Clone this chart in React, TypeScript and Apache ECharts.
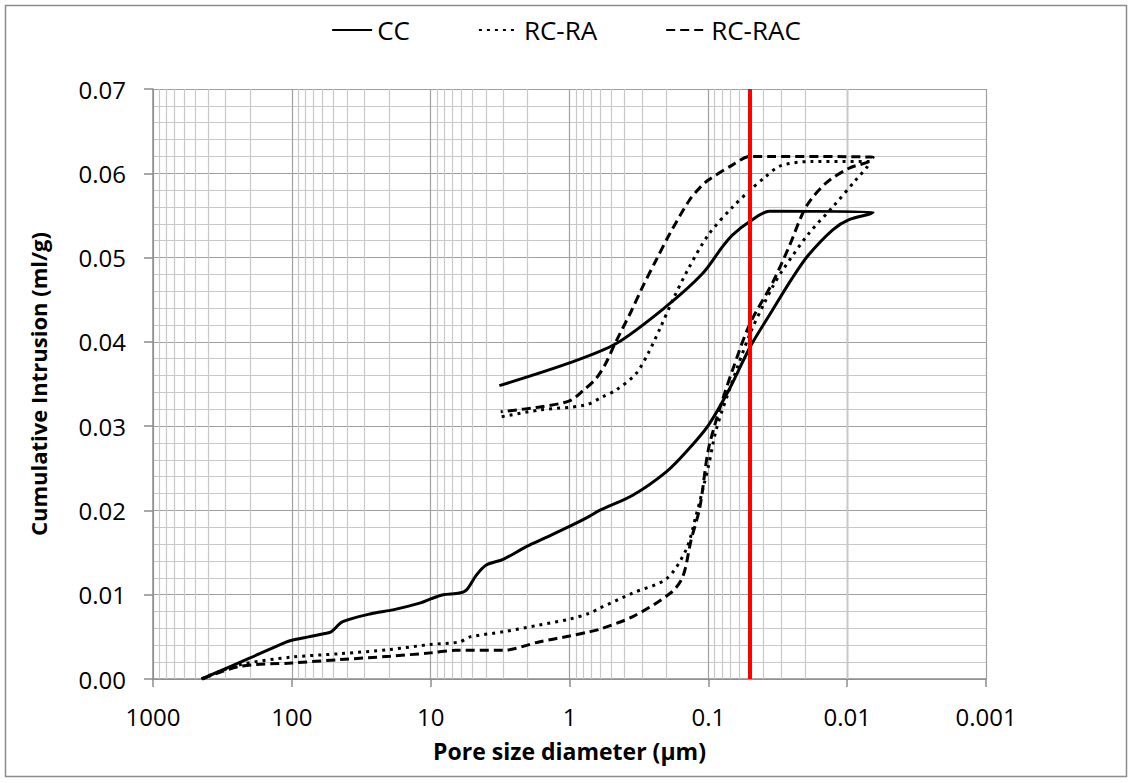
import React, { useEffect, useRef } from "react";
import * as echarts from "echarts";

// ---- Data (pore size diameter in µm, cumulative intrusion in ml/g) ----
// Each series: intrusion branch (large -> small pores) followed by extrusion branch.
const ccPore = [
  447, 200, 109, 100, 76, 58, 52, 43, 26, 18.7, 12, 10, 8.15, 6.2, 5.5, 4.7, 4.0, 3.0, 2.05, 1.47, 1.0, 0.72,
  0.608, 0.35, 0.2, 0.14, 0.1, 0.07, 0.05, 0.035, 0.025, 0.019, 0.0127, 0.0097, 0.0068,
  0.0065, 0.0364, 0.05, 0.0668, 0.079, 0.11, 0.201, 0.461, 1.0, 3.2,
];
const ccIntrusion = [
  0, 0.0025, 0.0044, 0.0046, 0.005, 0.0054, 0.0056, 0.0068, 0.0078, 0.0082, 0.009, 0.0095, 0.01, 0.0102, 0.0106,
  0.0123, 0.0135, 0.0142, 0.0157, 0.0168, 0.0181, 0.0193, 0.02, 0.0218, 0.0246, 0.0272, 0.0301, 0.0345, 0.0394,
  0.0436, 0.0475, 0.0503, 0.0533, 0.0545, 0.0552,
  0.0554, 0.0555, 0.0543, 0.0527, 0.0513, 0.0481, 0.0442, 0.0398, 0.0375, 0.0348,
];

const raPore = [
  447, 411, 237, 100, 45, 19.7, 10, 6.2, 5.2, 3.0, 1.66, 1.0, 0.72, 0.608, 0.35, 0.2, 0.145, 0.123, 0.1, 0.088,
  0.0706, 0.05, 0.0395, 0.0345, 0.0292, 0.0188, 0.0127, 0.00867, 0.00715, 0.0069,
  0.018, 0.03, 0.04, 0.05, 0.0668, 0.1, 0.14, 0.18, 0.22, 0.27, 0.333, 0.46, 0.575, 0.77, 1.66, 3.13,
];
const raIntrusion = [
  0, 0.0003, 0.0017, 0.0026, 0.003, 0.0035, 0.0041, 0.0044, 0.005, 0.0056, 0.0064, 0.0071, 0.0078, 0.0084, 0.0102,
  0.0119, 0.0153, 0.0193, 0.0252, 0.0295, 0.0343, 0.041, 0.0446, 0.0465, 0.0485, 0.0529, 0.056, 0.0592, 0.0608,
  0.0614,
  0.0614, 0.0609, 0.0594, 0.058, 0.056, 0.0527, 0.0486, 0.045, 0.0418, 0.0387, 0.0362, 0.0343, 0.0335, 0.0325,
  0.0319, 0.0311,
];

const racPore = [
  440, 237, 100, 45, 19.7, 10, 6.6, 3.0, 1.66, 1.0, 0.72, 0.608, 0.35, 0.187, 0.153, 0.133, 0.115, 0.1, 0.0834,
  0.0668, 0.05, 0.0345, 0.0262, 0.0198, 0.0143, 0.0097, 0.0069, 0.0065,
  0.05, 0.0668, 0.1, 0.115, 0.137, 0.19, 0.236, 0.3, 0.36, 0.47, 0.55, 0.64, 0.8, 1.0, 1.6, 3.13,
];
const racIntrusion = [
  0, 0.0015, 0.0019, 0.0023, 0.0027, 0.0031, 0.0034, 0.0034, 0.0044, 0.0051, 0.0056, 0.0059, 0.0074, 0.0102,
  0.0121, 0.0165, 0.0204, 0.0272, 0.0319, 0.0367, 0.0422, 0.047, 0.0513, 0.056, 0.0588, 0.0606, 0.0614, 0.0619,
  0.062, 0.061, 0.0592, 0.0583, 0.0568, 0.0528, 0.0498, 0.0464, 0.0436, 0.0398, 0.0374, 0.0357, 0.0342, 0.033,
  0.0323, 0.0317,
];

const seriesNames = ["CC", "RC-RA", "RC-RAC"];
const thresholdPore = 0.05;
const xMin = 0.001;
const xMax = 1000;
const yMin = 0;
const yMax = 0.07;
const yStep = 0.01;
const decadeStarts = [0.001, 0.01, 0.1, 1, 10, 100];
const minorMultipliers = [2, 3, 4, 5, 6, 7, 8, 9];

const FONT = "'Open Sans', 'Liberation Sans', sans-serif";

function pairs(x: number[], y: number[]) {
  return x.map((v, i) => [v, y[i]]);
}

export default function App() {
  const ref = useRef<HTMLDivElement>(null);

  useEffect(() => {
    document.body.style.margin = "0";
    if (!ref.current) return;
    const chart = echarts.init(ref.current, null, { renderer: "svg" });

    const minorX: number[] = [];
    decadeStarts.forEach((d) =>
      minorMultipliers.forEach((m) => minorX.push(Number((d * m).toPrecision(6))))
    );

    const lineBase = { type: "line" as const, symbol: "none", smooth: 0.3, z: 3, silent: true };

    chart.setOption({
      animation: false,
      graphic: [
        {
          type: "rect",
          silent: true,
          z: -10,
          shape: { x: 5.5, y: 5.5, width: 1121, height: 771 },
          style: { fill: "none", stroke: "#8c8c8c", lineWidth: 1.5 },
        },
      ],
      legend: {
        data: seriesNames,
        top: 12,
        left: "center",
        itemWidth: 40,
        itemHeight: 14,
        itemGap: 68,
        itemStyle: { opacity: 0, color: "rgba(0,0,0,0)", borderColor: "rgba(0,0,0,0)", borderWidth: 0 },
        textStyle: { fontSize: 26, color: "#000", fontFamily: FONT },
      },
      grid: { left: 153, right: 146, top: 89, bottom: 104 },
      xAxis: {
        type: "log",
        logBase: 10,
        min: xMin,
        max: xMax,
        inverse: true,
        name: "Pore size diameter (µm)",
        nameLocation: "middle",
        nameGap: 60,
        nameTextStyle: { fontSize: 23, fontWeight: "bold", color: "#000", fontFamily: FONT },
        axisLine: { show: true, lineStyle: { color: "#8c8c8c", width: 1.5 } },
        axisTick: { show: true, length: 8, lineStyle: { color: "#8c8c8c", width: 1.5 } },
        axisLabel: {
          fontSize: 24,
          color: "#000",
          fontFamily: FONT,
          margin: 25,
          formatter: (v: number) => String(Number(v.toPrecision(6))),
        },
        splitLine: { show: true, lineStyle: { color: "#a0a0a0", width: 1.2 } },
      },
      yAxis: {
        type: "value",
        min: yMin,
        max: yMax,
        interval: yStep,
        name: "Cumulative Intrusion (ml/g)",
        nameLocation: "middle",
        nameGap: 104,
        nameTextStyle: { fontSize: 22, fontWeight: "bold", color: "#000", fontFamily: FONT },
        axisLine: { show: true, lineStyle: { color: "#8c8c8c", width: 1.5 } },
        axisTick: { show: true, length: 9, lineStyle: { color: "#8c8c8c", width: 1.5 } },
        axisLabel: {
          fontSize: 24,
          color: "#000",
          fontFamily: FONT,
          margin: 27,
          formatter: (v: number) => v.toFixed(2),
        },
        splitLine: { show: true, lineStyle: { color: "#a0a0a0", width: 1.2 } },
        minorTick: { show: false, splitNumber: 5 },
        minorSplitLine: { show: true, lineStyle: { color: "#c8c8c8", width: 1.2 } },
      },
      series: [
        {
          type: "line",
          name: "__grid",
          data: [],
          silent: true,
          z: 1,
          markLine: {
            silent: true,
            z: 1,
            symbol: ["none", "none"],
            label: { show: false },
            lineStyle: { color: "#c8c8c8", width: 1.2, type: "solid" },
            emphasis: { disabled: true },
            data: minorX.map((v) => ({ xAxis: v })),
          },
        },
        {
          ...lineBase,
          name: seriesNames[0],
          data: pairs(ccPore, ccIntrusion),
          lineStyle: { color: "#000", width: 3, type: "solid" },
          itemStyle: { color: "#000" },
        },
        {
          ...lineBase,
          name: seriesNames[1],
          data: pairs(raPore, raIntrusion),
          lineStyle: { color: "#000", width: 3, type: [3, 5] },
          itemStyle: { color: "#000" },
        },
        {
          ...lineBase,
          name: seriesNames[2],
          data: pairs(racPore, racIntrusion),
          lineStyle: { color: "#000", width: 3, type: [9, 5] },
          itemStyle: { color: "#000" },
        },
        {
          type: "line",
          name: "__threshold",
          data: [],
          silent: true,
          z: 10,
          markLine: {
            silent: true,
            z: 10,
            symbol: ["none", "none"],
            label: { show: false },
            lineStyle: { color: "#ff0000", width: 4, type: "solid" },
            emphasis: { disabled: true },
            data: [{ xAxis: thresholdPore }],
          },
        },
      ],
    });

    return () => chart.dispose();
  }, []);

  return <div ref={ref} style={{ width: 1132, height: 783 }} />;
}
